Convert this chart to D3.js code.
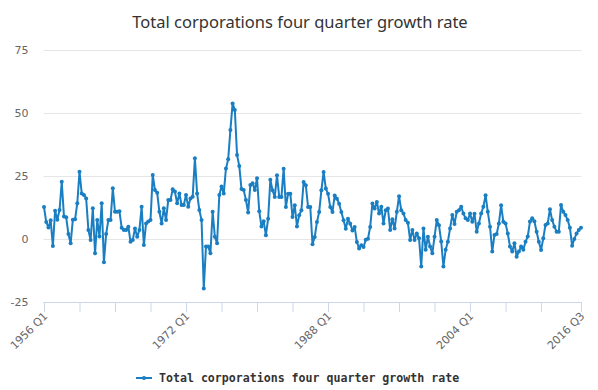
<!DOCTYPE html>
<html>
<head>
<meta charset="utf-8">
<script src="https://cdn.jsdelivr.net/npm/d3@7"></script>
<style>
  html, body { margin: 0; padding: 0; background: #ffffff; }
  svg { display: block; }
</style>
</head>
<body>
<div id="chart"></div>
<script>
// ---------- DATA ----------
const chartTitle = "Total corporations four quarter growth rate";
const seriesName = "Total corporations four quarter growth rate";
const firstYear = 1956;
const lastYear = 2016;
const lastQuarter = 3;
const categories = [];
for (let yr = firstYear; yr <= lastYear; yr++) {
  for (let q = 1; q <= 4; q++) {
    if (yr === lastYear && q > lastQuarter) break;
    categories.push(yr + " Q" + q);
  }
}
const growthValues = [
  12.7, 6.7, 4.6, 7.4, -2.8, 11.2, 7.6, 11.5, 22.7, 8.9,
  8.6, 2, -1.7, 7.6, 7.8, 14.2, 26.7, 18.1, 17.5, 16.1,
  3.6, -0.4, 12.2, -5.7, 7.5, 1, 14.2, -9.2, 2, 7.5,
  7.5, 20.1, 10.8, 10.8, 11, 4.5, 3.6, 3.6, 4.9, -1.1,
  -0.4, 4.2, 0.9, 3.6, 12.8, -2.4, 6.2, 6.9, 7.5, 25.4,
  19.4, 18.4, 10.8, 6.2, 12.2, 7.5, 15.5, 15.5, 19.7, 18.8,
  14.2, 18.1, 13.5, 13.5, 17.5, 12.8, 16.1, 16.8, 32, 18.1,
  11.5, 7.5, -19.6, -3, -3, -5.7, 10.8, 0.9, -1.7, 17.5,
  20.8, 18.1, 28, 31.6, 43.3, 53.8, 51.2, 33.3, 29, 19.8,
  19.4, 15.5, 10.5, 21.4, 22.1, 19.4, 24.1, 11, 5, 7,
  1.5, 8, 23.5, 19.3, 16.7, 25.3, 16.7, 16.7, 27.9, 12.7,
  18, 18, 8.7, 13.4, 5, 9.4, 11.4, 22.6, 21.3, 12.7,
  12.7, -2.1, 0.8, 6.7, 10.7, 19.3, 26.6, 20, 18, 12.7,
  10.7, 17.3, 16, 14, 10.7, 7.4, 4.1, 8, 6.1, 3.4,
  4.8, -1.2, -3.8, -2.5, -3.2, -0.3, 0.1, 4.8, 14.1, 12.1,
  14.7, 10.1, 12.8, 6.2, 11.4, 12.1, 3.6, 7.8, 4.2, 10.8,
  17, 11.4, 10.1, 7.5, 6.4, -0.4, 3.6, -0.4, 2.2, 0.3,
  -10.9, 4.2, -4.3, 0.9, -3, -5.7, 0.9, 7.5, 5.5, -1,
  -10.9, -4.3, -1.1, 4.2, 9.5, 6, 10.8, 11.4, 12.8, 10.1,
  8.2, 7.5, 10.1, 6.8, 10, 2.9, 6.2, 10.1, 12.8, 17.4,
  10.8, 4.9, -5, 1.6, 2, 6.2, 13.4, 6.8, 6.2, 2.2,
  -3, -5, -1.7, -7, -5, -3, -4.3, -1.1, 1, 6.9,
  8.2, 7, 2.9, -1.1, -4.4, 0.3, 5.6, 6.2, 11.8, 7.5,
  4.9, 2.9, 2.9, 13.5, 10.8, 9.5, 7.5, 4.5, -2.7, 0,
  2.2, 3.6, 4.5
];
const yTickValues = [-25, 0, 25, 50, 75];
const xTickCategories = ["1956 Q1","1960 Q1","1964 Q1","1968 Q1","1972 Q1","1976 Q1","1980 Q1","1984 Q1",
  "1988 Q1","1992 Q1","1996 Q1","2000 Q1","2004 Q1","2008 Q1","2012 Q1","2016 Q3"];
const xTickLabels = ["1956 Q1", "1972 Q1", "1988 Q1", "2004 Q1", "2016 Q3"];

// ---------- LAYOUT ----------
const W = 598, H = 390;
const plot = { left: 44, right: 581, top: 50, bottom: 302 };
const lineColor = "#1a7ec2";
const axisFont = "'DejaVu Sans', 'Noto Sans', sans-serif";

const svg = d3.select("#chart").append("svg")
  .attr("width", W).attr("height", H)
  .style("font-family", "'Noto Sans', 'DejaVu Sans', sans-serif");

const x = d3.scalePoint().domain(categories).range([plot.left, plot.right]);
const y = d3.scaleLinear().domain([-25, 75]).range([plot.bottom, plot.top]);

// Title
svg.append("text")
  .attr("x", 300).attr("y", 28)
  .attr("text-anchor", "middle")
  .style("font-size", "16.5px")
  .style("fill", "#333333")
  .text(chartTitle);

// Y axis with gridlines
const yAxis = d3.axisLeft(y)
  .tickValues(yTickValues)
  .tickSize(-(plot.right - plot.left + 1))
  .tickPadding(15)
  .tickFormat(d => d);
const gy = svg.append("g")
  .attr("transform", `translate(${plot.left - 0.5},0)`)
  .call(yAxis);
gy.select(".domain").remove();
gy.selectAll(".tick line").attr("stroke", "#e6e6e6").attr("stroke-width", 1);
gy.selectAll(".tick text")
  .style("font-size", "11px")
  .style("fill", "#666666")
  .style("font-family", axisFont);

// X axis
const labelSet = new Set(xTickLabels);
const xAxis = d3.axisBottom(x)
  .tickValues(xTickCategories)
  .tickSize(10)
  .tickSizeOuter(0)
  .tickFormat(d => labelSet.has(d) ? d : "");
const gx = svg.append("g")
  .attr("transform", `translate(0,${plot.bottom})`)
  .call(xAxis);
gx.select(".domain")
  .attr("stroke", "#ccd6eb")
  .attr("d", `M${plot.left - 0.5},0.5H${plot.right + 0.5}`);
gx.selectAll(".tick line").attr("stroke", "#ccd6eb");
gx.selectAll(".tick text")
  .attr("x", 0).attr("y", 0).attr("dy", "0.35em")
  .attr("text-anchor", "end")
  .attr("transform", "translate(1,12) rotate(-45)")
  .style("font-size", "11px")
  .style("fill", "#666666")
  .style("font-family", axisFont);

// Line
const pts = categories.map((c, i) => ({ c, v: growthValues[i] }));
const line = d3.line().x(d => x(d.c)).y(d => y(d.v));
svg.append("path")
  .datum(pts)
  .attr("d", line)
  .attr("fill", "none")
  .attr("stroke", lineColor)
  .attr("stroke-width", 2)
  .attr("stroke-linejoin", "round");

svg.append("g").selectAll("circle")
  .data(pts).join("circle")
  .attr("cx", d => x(d.c))
  .attr("cy", d => y(d.v))
  .attr("r", 2)
  .attr("fill", lineColor);

// Legend
const lg = svg.append("g").attr("transform", "translate(136,378)");
lg.append("line").attr("x1", 0).attr("x2", 16).attr("y1", 0).attr("y2", 0)
  .attr("stroke", lineColor).attr("stroke-width", 2);
lg.append("circle").attr("cx", 8).attr("cy", 0).attr("r", 2).attr("fill", lineColor);
lg.append("text")
  .attr("x", 23).attr("y", 0).attr("dy", "0.35em")
  .style("font-family", "'DejaVu Sans Mono', monospace")
  .style("font-weight", "bold")
  .style("font-size", "11.6px")
  .style("fill", "#333333")
  .text(seriesName);
</script>
</body>
</html>
